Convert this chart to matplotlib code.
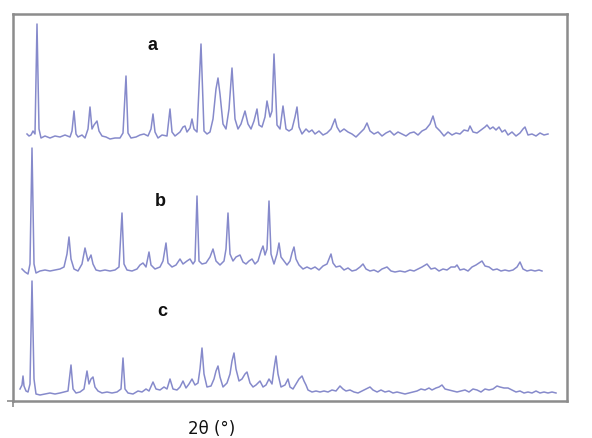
import matplotlib
matplotlib.use("Agg")
import matplotlib.pyplot as plt

# 2theta (deg) and intensity (a.u.)
a_two_theta = [4.4,4.6,4.8,5.0,5.2,5.4,5.6,5.8,6.2,6.7,7.2,7.7,8.2,8.7,8.9,9.1,9.3,9.5,9.9,10.2,
               10.5,10.7,10.9,11.1,11.4,11.6,11.9,12.3,12.7,13.2,13.7,14.0,14.3,14.5,14.8,15.3,15.7,16.1,16.5,16.8,
               17.0,17.2,17.5,17.9,18.4,18.7,18.9,19.2,19.7,20.0,20.2,20.4,20.7,20.9,21.1,21.4,21.8,22.1,22.4,22.7,
               23.0,23.3,23.5,23.7,24.0,24.3,24.6,24.9,25.2,25.5,25.8,26.2,26.5,26.8,27.1,27.4,27.6,27.9,28.2,28.4,
               28.7,28.9,29.1,29.4,29.7,30.0,30.3,30.6,30.9,31.2,31.4,31.6,31.9,
               32.3,32.6,32.9,33.2,33.6,34.0,34.4,34.8,35.0,35.2,35.4,35.7,36.1,36.5,36.9,37.3,37.7,38.1,38.4,38.7,
               39.1,39.5,39.9,40.3,40.7,41.1,41.5,41.9,42.3,42.7,43.1,43.5,43.9,44.3,44.7,45.0,45.3,45.7,46.1,46.5,
               46.9,47.3,47.7,48.1,48.5,48.7,49.0,49.4,49.8,50.2,50.4,50.7,51.0,51.3,51.6,51.9,52.2,52.5,52.9,53.3,
               53.7,54.0,54.2,54.5,54.9,55.3,55.7,56.1,56.5]
a_intensity = [12,10,11,15,12,122,17,8,10,8,10,9,11,9,15,35,12,9,11,8,
               17,39,17,21,25,15,10,9,7,8,8,13,70,13,8,9,11,12,10,17,
               32,14,8,11,10,37,14,10,14,19,20,14,18,27,17,14,102,15,12,14,
               27,57,68,52,22,17,37,78,27,17,22,35,22,17,25,37,21,19,29,45,
               29,35,92,21,17,40,17,15,17,29,39,19,12,
               17,14,16,12,15,11,13,17,22,27,19,14,17,14,12,9,13,17,23,15,
               12,14,10,13,15,11,14,12,10,13,14,11,15,17,22,30,19,15,10,14,
               11,13,12,16,15,20,14,13,16,19,21,17,19,16,19,14,16,11,14,10,
               13,17,19,11,12,10,13,11,12]

b_two_theta = [3.9,4.2,4.5,4.7,4.9,5.1,5.3,5.7,6.2,6.7,7.2,7.7,8.1,8.4,8.6,8.8,9.1,9.5,9.9,10.2,
               10.5,10.8,11.0,11.3,11.7,12.2,12.7,13.2,13.6,13.9,14.1,14.4,14.9,15.4,15.7,16.0,16.3,16.6,16.8,17.2,
               17.7,18.0,18.3,18.5,18.9,19.3,19.7,20.0,20.4,20.7,21.0,21.2,21.4,21.6,21.9,22.3,22.7,23.0,23.3,23.7,
               24.1,24.3,24.5,24.7,25.0,25.3,25.7,26.0,26.3,26.6,26.9,27.2,27.5,27.8,28.0,28.2,28.4,28.6,28.8,29.1,
               29.4,29.6,29.8,30.1,30.4,30.7,30.9,31.1,31.3,31.6,32.0,32.4,32.8,33.2,33.6,34.0,34.4,34.6,34.8,35.0,
               35.3,35.7,36.1,36.5,36.9,37.3,37.7,38.0,38.3,38.7,39.1,39.5,39.9,40.4,40.8,41.2,41.7,42.2,42.7,43.1,
               43.5,43.9,44.4,44.8,45.2,45.6,46.0,46.4,46.8,47.2,47.4,47.7,48.1,48.5,48.9,49.3,49.6,49.9,50.2,50.6,
               51.0,51.4,51.8,52.2,52.6,53.0,53.4,53.7,54.0,54.4,54.8,55.2,55.6,55.9]
b_intensity = [12,9,7,17,133,17,8,10,11,10,11,12,14,27,44,22,12,10,17,33,
               20,26,17,11,10,11,10,11,14,68,17,11,10,12,16,18,14,29,16,12,
               14,20,38,18,14,16,22,17,20,22,17,20,85,20,17,18,24,32,20,16,
               20,32,68,27,20,24,26,19,17,20,22,17,20,30,35,26,32,80,27,17,
               27,38,24,20,16,20,28,34,22,16,12,14,12,14,11,15,17,22,27,18,
               14,15,11,13,10,11,14,17,12,10,11,9,12,14,10,9,10,9,11,10,
               12,14,17,12,13,10,12,11,14,14,16,11,12,10,14,16,18,20,15,14,
               11,12,10,11,10,11,14,19,12,10,11,10,11,10]

c_two_theta = [3.7,3.9,4.0,4.1,4.3,4.5,4.7,4.9,5.1,5.3,5.7,6.2,6.7,7.2,7.7,8.1,8.5,8.8,9.0,9.3,
               9.7,10.1,10.4,10.6,10.8,11.0,11.2,11.5,11.9,12.4,12.9,13.4,13.8,14.0,14.2,14.5,15.0,15.5,15.9,16.3,
               16.6,17.0,17.3,17.7,18.1,18.4,18.7,19.0,19.4,19.7,20.0,20.3,20.6,20.9,21.2,21.5,21.7,21.9,22.1,22.4,
               22.8,23.1,23.3,23.5,23.7,24.0,24.4,24.7,24.9,25.1,25.3,25.6,25.9,26.2,26.4,26.7,27.0,27.3,27.7,28.0,
               28.3,28.6,28.9,29.1,29.3,29.5,29.8,30.2,30.5,30.7,31.0,31.3,31.6,31.9,32.1,32.3,32.5,32.9,33.3,33.7,
               34.1,34.5,34.9,35.3,35.7,36.0,36.3,36.7,37.1,37.5,37.9,38.3,38.7,39.0,39.4,39.8,40.2,40.6,41.0,41.4,
               41.8,42.2,42.6,43.0,43.4,43.8,44.2,44.6,44.9,45.3,45.6,45.9,46.2,46.6,47.0,47.4,47.8,48.2,48.6,49.0,
               49.4,49.8,50.2,50.6,51.0,51.4,51.7,52.1,52.5,52.9,53.3,53.7,54.1,54.5,54.9,55.3,55.7,56.1,56.5,56.9,
               57.3]
c_intensity = [13,17,26,16,11,10,18,121,23,8,7,8,9,8,9,10,11,37,13,9,
               10,13,31,18,23,25,15,11,9,10,9,10,13,44,13,9,8,11,10,13,
               11,20,13,12,15,13,23,13,12,15,21,14,18,23,17,19,33,54,28,15,
               16,23,31,36,25,15,19,28,41,49,33,21,23,28,30,19,15,17,21,15,
               17,23,18,33,46,28,15,17,23,15,13,18,23,26,21,17,12,10,11,10,
               11,10,12,11,16,13,11,12,10,9,11,13,15,12,10,12,10,11,9,10,
               9,8,9,10,11,13,12,14,12,14,15,17,13,12,11,10,11,12,10,13,
               12,10,13,12,13,16,15,14,14,12,10,11,9,10,9,11,9,10,9,10,
               9]

sample_labels = ["a", "b", "c"]
offsets = [256, 121, 0]

fig = plt.figure(figsize=(5.92, 4.39), dpi=100)
ax = fig.add_axes([13/592, 37/439, 554/592, 387/439])

line_color = "#868acb"
for tt, inten, off in [(a_two_theta, a_intensity, offsets[0]),
                       (b_two_theta, b_intensity, offsets[1]),
                       (c_two_theta, c_intensity, offsets[2])]:
    ax.plot(tt, [v + off for v in inten], color=line_color, lw=1.1, solid_joinstyle="round")

ax.set_xlim(3.0, 58.4)
ax.set_ylim(1, 388)

label_pos = [(16.9, 357), (17.7, 201), (17.9, 91)]
for lab, (lx, ly) in zip(sample_labels, label_pos):
    ax.text(lx, ly, lab, fontsize=13, fontweight="bold", color="#111111",
            ha="center", va="center", family="Liberation Sans")

for s in ax.spines.values():
    s.set_color("#8c8c8c")
    s.set_linewidth(1.8)

ax.set_xticks([3.0])
ax.set_yticks([1])
ax.set_xticklabels([])
ax.set_yticklabels([])
ax.tick_params(direction="out", length=4, width=1.2, color="#8c8c8c")

fig.text(212/592, 1 - 429/439, "2θ (°)", fontsize=12, ha="center", va="center",
         color="#111111", family="DejaVu Sans")

fig.savefig("out.png", dpi=100)
